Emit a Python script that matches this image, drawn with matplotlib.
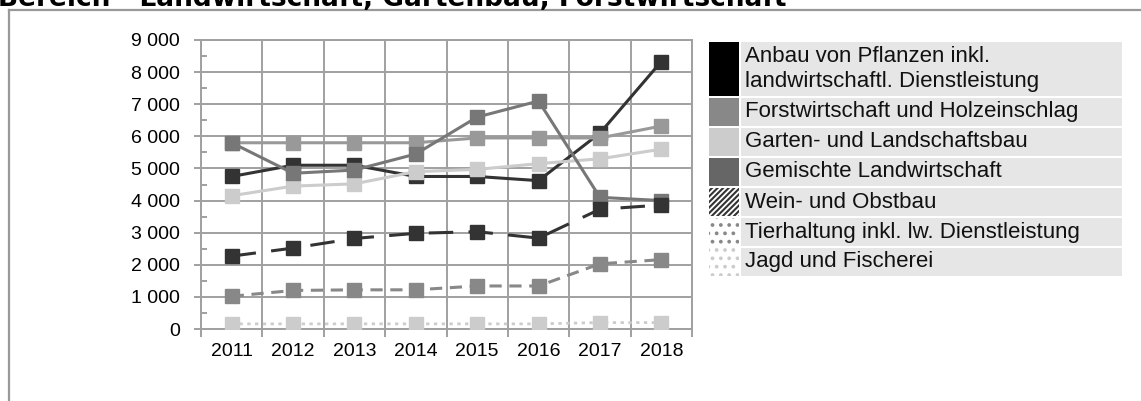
import matplotlib
matplotlib.use('Agg')
import matplotlib.pyplot as plt
from matplotlib.patches import Rectangle
from matplotlib.ticker import FuncFormatter, MultipleLocator

years = ['2011', '2012', '2013', '2014', '2015', '2016', '2017', '2018']

anbau = [4750, 5100, 5100, 4750, 4750, 4620, 6100, 8330]
forst = [5800, 5800, 5800, 5800, 5950, 5950, 5950, 6320]
garten = [4150, 4450, 4520, 4900, 4970, 5150, 5300, 5600]
gemischt = [5800, 4850, 4950, 5450, 6600, 7100, 4100, 4000]
wein = [2270, 2520, 2820, 2980, 3030, 2830, 3730, 3860]
tier = [1020, 1200, 1220, 1220, 1340, 1340, 2030, 2160]
jagd = [160, 160, 160, 160, 160, 160, 200, 200]

labels = ['Anbau von Pflanzen inkl.\nlandwirtschaftl. Dienstleistung',
          'Forstwirtschaft und Holzeinschlag',
          'Garten- und Landschaftsbau',
          'Gemischte Landwirtschaft',
          'Wein- und Obstbau',
          'Tierhaltung inkl. lw. Dienstleistung',
          'Jagd und Fischerei']

W, H = 1141, 401
fig = plt.figure(figsize=(W / 100, H / 100), dpi=100)
plt.rcParams['font.family'] = ['Liberation Sans', 'DejaVu Sans']
plt.rcParams['hatch.linewidth'] = 1.5

# outer frame (top and left edges visible)
fig.add_artist(plt.Line2D([9 / W, 9 / W], [0, 1 - 9.5 / H], color='#999999', lw=1.6))
fig.add_artist(plt.Line2D([9 / W, 1], [1 - 9.5 / H, 1 - 9.5 / H], color='#999999', lw=1.6))

# title is cut off at the top edge, as in the source
fig.text(-2 / W, 1 - 6 / H, 'Bereich - Landwirtschaft, Gartenbau, Forstwirtschaft',
         fontsize=19, fontweight='bold', family='DejaVu Sans', va='baseline', ha='left')

ax = fig.add_axes([201 / W, 1 - 329 / H, 491 / W, 289 / H])
x = list(range(len(years)))

ax.plot(x, anbau, color='#333333', lw=2.2, marker='s', ms=9.5, zorder=3)
ax.plot(x, forst, color='#999999', lw=2.2, marker='s', ms=9.5, zorder=3)
ax.plot(x, garten, color='#cccccc', lw=2.2, marker='s', ms=9.5, zorder=3)
ax.plot(x, gemischt, color='#777777', lw=2.2, marker='s', ms=9.5, zorder=3)
ax.plot(x, wein, color='#333333', lw=2.2, marker='s', ms=9.5, dashes=(8, 5), zorder=3)
ax.plot(x, tier, color='#888888', lw=2.2, marker='s', ms=9.5, dashes=(4, 2.5), zorder=3)
ax.plot(x, jagd, color='#cccccc', lw=2.0, marker='s', ms=9.5, dashes=(1.2, 1.6), zorder=3)

ax.set_xlim(-0.5, 7.5)
ax.set_ylim(0, 9000)
ax.set_xticks(x)
ax.set_xticklabels(years)
ax.set_xticks([i - 0.5 for i in range(9)], minor=True)
ax.yaxis.set_major_locator(MultipleLocator(1000))
ax.yaxis.set_minor_locator(MultipleLocator(500))
ax.yaxis.set_major_formatter(FuncFormatter(lambda v, p: f'{int(v):,}'.replace(',', ' ')))

ax.grid(True, axis='y', which='major', color='#a0a0a0', lw=1.4)
ax.grid(True, axis='x', which='minor', color='#a0a0a0', lw=1.4)
ax.set_axisbelow(True)
for s in ax.spines.values():
    s.set_color('#a0a0a0')
    s.set_linewidth(1.4)

ax.tick_params(axis='x', which='major', length=0, labelsize=14, pad=10)
ax.tick_params(axis='x', which='minor', length=6, width=1.4, color='#a0a0a0', direction='out')
ax.tick_params(axis='y', which='major', length=5, width=1.4, color='#a0a0a0', labelsize=14, pad=10)
ax.tick_params(axis='y', which='minor', length=4, width=1.4, color='#a0a0a0', direction='in')

# legend drawn by hand
rows = [(42, 96), (98, 126), (128, 156), (158, 186), (188, 216), (218, 246), (248, 276)]
swatch = [dict(facecolor='black'),
          dict(facecolor='#888888'),
          dict(facecolor='#cccccc'),
          dict(facecolor='#666666'),
          dict(facecolor='white', hatch='//////', edgecolor='#333333'),
          dict(facecolor='white', hatch='..', edgecolor='#888888'),
          dict(facecolor='white', hatch='..', edgecolor='#cccccc')]
for (t, b), lab, sw in zip(rows, labels, swatch):
    fig.add_artist(Rectangle((709 / W, 1 - b / H), 30 / W, (b - t) / H, lw=0, **sw))
    fig.add_artist(Rectangle((741 / W, 1 - b / H), 381 / W, (b - t) / H, lw=0, facecolor='#e6e6e6'))
    fig.text(745 / W, 1 - (t + b) / 2 / H, lab, fontsize=16, va='center', ha='left',
             linespacing=1.2, color='#111111')

fig.savefig('out.png', dpi=100)
